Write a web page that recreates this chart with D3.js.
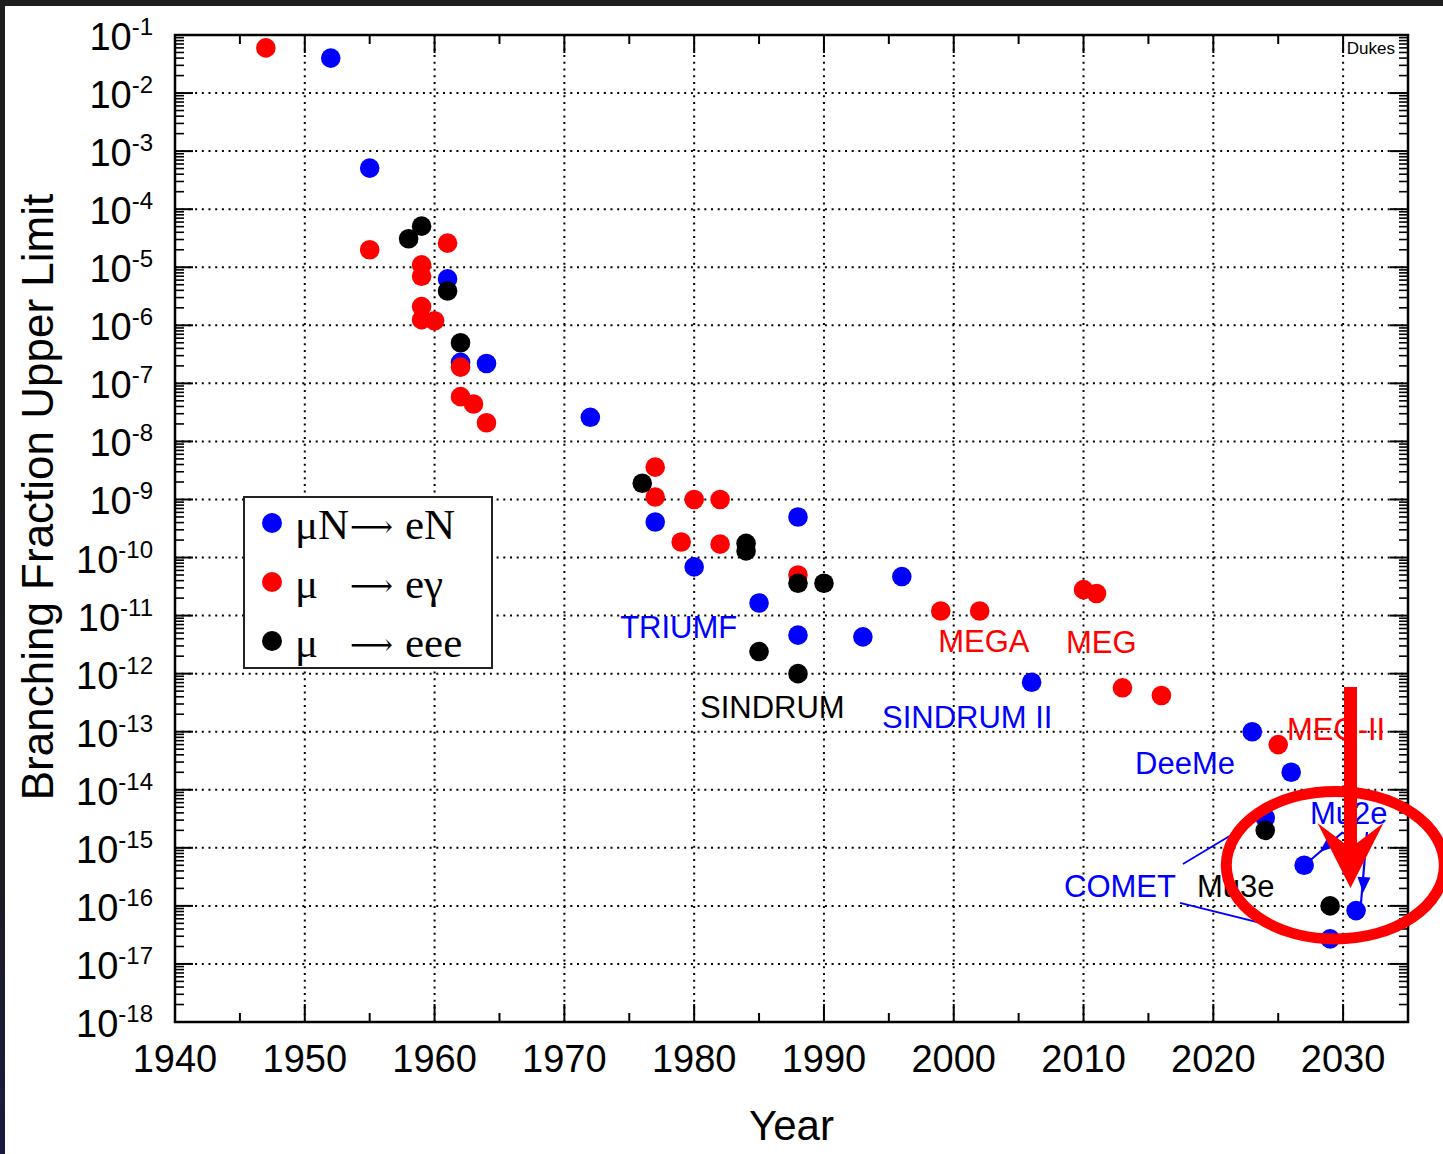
<!DOCTYPE html>
<html>
<head>
<meta charset="utf-8">
<script src="https://cdn.jsdelivr.net/npm/d3@7"></script>
<style>
  html, body { margin: 0; padding: 0; background: #fff; }
  svg { display: block; }
</style>
</head>
<body>
<svg id="chart" width="1443" height="1154"></svg>
<script>
// ---- Data: best upper limits on charged lepton flavour violating muon decays ----

// mu N -> e N (conversion)
const convYears  = [1952, 1955, 1961, 1962, 1964, 1972, 1977, 1980, 1985, 1988, 1988, 1993, 1996, 2006, 2023, 2024, 2026, 2027, 2029, 2031];
const convValues = [4e-2, 5.1e-4, 6.3e-6, 2.3e-7, 2.2e-7, 2.6e-8, 4.1e-10, 6.9e-11, 1.65e-11, 5e-10, 4.6e-12, 4.3e-12, 4.7e-11, 7.1e-13, 1e-13, 3.3e-15, 2e-14, 5e-16, 2.7e-17, 8.3e-17];

// mu -> e gamma
const egYears  = [1947, 1955, 1959, 1959, 1959, 1959, 1960, 1961, 1962, 1962, 1963, 1964, 1977, 1977, 1979, 1980, 1982, 1982, 1988, 1999, 2002, 2010, 2011, 2013, 2016, 2025];
const egValues = [6e-2, 2e-5, 1.1e-5, 7e-6, 2.1e-6, 1.25e-6, 1.2e-6, 2.6e-5, 1.9e-7, 5.9e-8, 4.4e-8, 2.1e-8, 3.6e-9, 1.1e-9, 1.85e-10, 1e-9, 1e-9, 1.7e-10, 5e-11, 1.2e-11, 1.2e-11, 2.8e-11, 2.4e-11, 5.7e-13, 4.2e-13, 6e-14];

// mu -> e e e
const eeeYears  = [1958, 1959, 1961, 1962, 1976, 1984, 1984, 1985, 1988, 1988, 1990, 2024, 2029];
const eeeValues = [3.1e-5, 5.1e-5, 3.9e-6, 5e-7, 1.9e-9, 1.75e-10, 1.3e-10, 2.4e-12, 3.6e-11, 1e-12, 3.6e-11, 2e-15, 1e-16];

// Axis ticks
const xTickYears   = [1940, 1950, 1960, 1970, 1980, 1990, 2000, 2010, 2020, 2030];
const yTickExps    = [-1, -2, -3, -4, -5, -6, -7, -8, -9, -10, -11, -12, -13, -14, -15, -16, -17, -18];

// Experiment names (anchored at year / value of the text baseline start)
const expNames  = ["TRIUMF", "SINDRUM", "SINDRUM II", "MEGA", "MEG", "MEG-II", "DeeMe", "Mu2e", "COMET", "Mu3e"];
const expYears  = [1974.3, 1980.45, 1994.47, 1998.8, 2008.65, 2025.68, 2013.97, 2027.45, 2008.5, 2018.74];
const expLogs   = [-11.39, -12.76, -12.94, -11.63, -11.64, -13.14, -13.73, -14.59, -15.85, -15.85];
const expSeries = ["conv", "eee", "conv", "eg", "eg", "eg", "conv", "conv", "conv", "eee"];

// Legend entries
const legendKeys   = ["conv", "eg", "eee"];
const legendLeft   = ["\u03bcN", "\u03bc", "\u03bc"];
const legendRight  = ["eN", "e\u03b3", "eee"];

// ---- Rendering ----
const colors = { conv: "#0000ff", eg: "#ff0000", eee: "#000000" };
const W = 1443, H = 1154;
const plot = { left: 175, right: 1408, top: 35, bottom: 1022 };

const svg = d3.select("#chart");
const sans = "'Liberation Sans', Arial, Helvetica, sans-serif";
const serif = "'Liberation Serif', 'Times New Roman', serif";

const x = d3.scaleLinear().domain([1940, 2035]).range([plot.left, plot.right]);
const y = d3.scaleLog().domain([1e-18, 1e-1]).range([plot.bottom, plot.top]);

// page background and dark window edges
svg.append("rect").attr("width", W).attr("height", H).attr("fill", "#fff");
const grad = svg.append("defs").append("linearGradient")
  .attr("id", "edge").attr("x1", 0).attr("y1", 0).attr("x2", 0).attr("y2", 1);
grad.append("stop").attr("offset", "0%").attr("stop-color", "#1e1e1e");
grad.append("stop").attr("offset", "75%").attr("stop-color", "#1c1c22");
grad.append("stop").attr("offset", "100%").attr("stop-color", "#1a1a40");
svg.append("rect").attr("x", 0).attr("y", 0).attr("width", 5).attr("height", H).attr("fill", "url(#edge)");
svg.append("rect").attr("x", 0).attr("y", 0).attr("width", W).attr("height", 6).attr("fill", "#1e1e1e");

// dotted grid
const grid = svg.append("g").attr("stroke", "#000").attr("stroke-width", 2)
  .attr("stroke-dasharray", "2,4.7").attr("fill", "none");
d3.range(1950, 2031, 10).forEach(yr => {
  grid.append("line").attr("x1", x(yr)).attr("x2", x(yr))
    .attr("y1", plot.top).attr("y2", plot.bottom);
});
d3.range(-2, -17.5, -1).forEach(e => {
  grid.append("line").attr("y1", y(Math.pow(10, e))).attr("y2", y(Math.pow(10, e)))
    .attr("x1", plot.left).attr("x2", plot.right);
});

// tick marks on all four sides
const ticks = svg.append("g").attr("stroke", "#000").attr("stroke-width", 2);
const majorLen = 18, minorLen = 9;
d3.range(1945, 2035, 5).forEach(yr => {
  const len = (yr % 10 === 0) ? majorLen : minorLen;
  ticks.append("line").attr("x1", x(yr)).attr("x2", x(yr))
    .attr("y1", plot.bottom).attr("y2", plot.bottom - len);
  ticks.append("line").attr("x1", x(yr)).attr("x2", x(yr))
    .attr("y1", plot.top).attr("y2", plot.top + len);
});
for (let e = -18; e <= -1; e++) {
  const v = Math.pow(10, e);
  [[plot.left, 1], [plot.right, -1]].forEach(([ax, dir]) => {
    if (e > -18 && e < -1) {
      ticks.append("line").attr("y1", y(v)).attr("y2", y(v))
        .attr("x1", ax).attr("x2", ax + dir * majorLen);
    }
    if (e < -1) {
      for (let k = 2; k <= 9; k++) {
        const yy = y(k * v);
        ticks.append("line").attr("y1", yy).attr("y2", yy)
          .attr("stroke-width", 1.6)
          .attr("x1", ax).attr("x2", ax + dir * minorLen);
      }
    }
  });
}

// frame
svg.append("rect")
  .attr("x", plot.left).attr("y", plot.top)
  .attr("width", plot.right - plot.left).attr("height", plot.bottom - plot.top)
  .attr("fill", "none").attr("stroke", "#000").attr("stroke-width", 2.5);

// x tick labels
svg.append("g").selectAll("text").data(xTickYears).join("text")
  .attr("x", d => x(d)).attr("y", 1072)
  .attr("text-anchor", "middle")
  .attr("font-family", sans).attr("font-size", 38).attr("fill", "#000")
  .text(d => d);

// y tick labels: 10^n
const yl = svg.append("g").selectAll("text").data(yTickExps).join("text")
  .attr("x", 153).attr("y", d => y(Math.pow(10, d)) + 15)
  .attr("text-anchor", "end")
  .attr("font-family", sans).attr("fill", "#000");
yl.append("tspan").attr("font-size", 38).text("10");
yl.append("tspan").attr("font-size", 24).attr("dy", -15).text(d => String(d));

// axis titles
svg.append("text")
  .attr("x", (plot.left + plot.right) / 2).attr("y", 1140)
  .attr("text-anchor", "middle")
  .attr("font-family", sans).attr("font-size", 42).attr("fill", "#000")
  .text("Year");
svg.append("text")
  .attr("transform", "translate(53,497) rotate(-90)")
  .attr("text-anchor", "middle")
  .attr("font-family", sans).attr("font-size", 44).attr("fill", "#000")
  .text("Branching Fraction Upper Limit");

// author tag
svg.append("text")
  .attr("x", 1395).attr("y", 54).attr("text-anchor", "end")
  .attr("font-family", sans).attr("font-size", 17).attr("fill", "#000")
  .text("Dukes");

// legend: each row is one text line "particle  ⟶  products"
const lg = svg.append("g");
lg.append("rect").attr("x", 244).attr("y", 497).attr("width", 248).attr("height", 171)
  .attr("fill", "#fff").attr("stroke", "#222").attr("stroke-width", 2);
legendKeys.forEach((k, i) => {
  const by = 539 + i * 59;
  lg.append("circle").attr("cx", 272).attr("cy", by - 16).attr("r", 10).attr("fill", colors[k]);
  const t = lg.append("text").attr("x", 295).attr("y", by)
    .attr("font-family", serif).attr("font-size", 43).attr("fill", "#000");
  t.append("tspan").text(legendLeft[i]);
  t.append("tspan").attr("x", 350).attr("font-family", "'DejaVu Serif', serif")
    .attr("font-size", 30).attr("dy", -2).text("\u27f6");
  t.append("tspan").attr("x", 405).attr("dy", 2).text(legendRight[i]);
});

// data points (conversion first, then e gamma, then eee on top)
const series = [
  { key: "conv", years: convYears, values: convValues },
  { key: "eg",   years: egYears,   values: egValues },
  { key: "eee",  years: eeeYears,  values: eeeValues }
];
series.forEach(s => {
  svg.append("g").selectAll("circle")
    .data(s.years.map((yr, i) => ({ yr, v: s.values[i] })))
    .join("circle")
    .attr("cx", d => x(d.yr)).attr("cy", d => y(d.v))
    .attr("r", 9.8).attr("fill", colors[s.key]);
});

// experiment labels
svg.append("g").selectAll("text").data(expNames).join("text")
  .attr("x", (d, i) => x(expYears[i]))
  .attr("y", (d, i) => y(Math.pow(10, expLogs[i])))
  .attr("font-family", sans).attr("font-size", 31)
  .attr("fill", (d, i) => colors[expSeries[i]])
  .text(d => d);

// COMET guide lines and Mu2e arrows
const P = (yr, lg) => [x(yr), y(Math.pow(10, lg))];
const guides = svg.append("g").attr("stroke", "#0000ff").attr("stroke-width", 1.8).attr("fill", "none");
[[P(2017.66, -15.28), P(2023.06, -14.555)],
 [P(2017.43, -15.95), P(2028.3, -16.55)]].forEach(([a, b]) => {
  guides.append("line").attr("x1", a[0]).attr("y1", a[1]).attr("x2", b[0]).attr("y2", b[1]);
});

function arrowHead(g, from, tip, len, half, color) {
  const dx = tip[0] - from[0], dy = tip[1] - from[1];
  const L = Math.hypot(dx, dy), ux = dx / L, uy = dy / L;
  const bx = tip[0] - ux * len, by = tip[1] - uy * len;
  g.append("path")
    .attr("d", `M${tip[0]},${tip[1]}L${bx - uy * half},${by + ux * half}L${bx + uy * half},${by - ux * half}Z`)
    .attr("fill", color).attr("stroke", "none");
}
const arrows = svg.append("g");
[[P(2029.99, -14.727), P(2027.14, -15.278), P(2028.22, -15.07)],
 [P(2031.84, -14.727), P(2031.38, -15.95), P(2031.53, -15.78)]].forEach(([a, b, t]) => {
  arrows.append("line").attr("x1", a[0]).attr("y1", a[1]).attr("x2", b[0]).attr("y2", b[1])
    .attr("stroke", "#0000ff").attr("stroke-width", 2.2);
  arrowHead(arrows, a, t, 16, 6.5, "#0000ff");
});

// red highlight ellipse around the upcoming experiments
const ec = P(2029.4, -15.3);
svg.append("ellipse")
  .attr("cx", ec[0]).attr("cy", ec[1])
  .attr("rx", x(2037.8) - x(2029.4))
  .attr("ry", y(Math.pow(10, -15.3)) - y(Math.pow(10, -14.03)))
  .attr("fill", "none").attr("stroke", "#ff0000").attr("stroke-width", 11);

// big red downward arrow
const ax0 = x(2030.57);
const aTop = y(Math.pow(10, -12.23));
const aTip = y(Math.pow(10, -15.69));
const wingY = aTip - 65, notchY = aTip - 45, sh = 6.5, wing = 33;
svg.append("path")
  .attr("d", `M${ax0 - sh},${aTop}L${ax0 - sh},${notchY}L${ax0 - wing},${wingY}L${ax0},${aTip}` +
             `L${ax0 + wing},${wingY}L${ax0 + sh},${notchY}L${ax0 + sh},${aTop}Z`)
  .attr("fill", "#ff0000");
</script>
</body>
</html>
